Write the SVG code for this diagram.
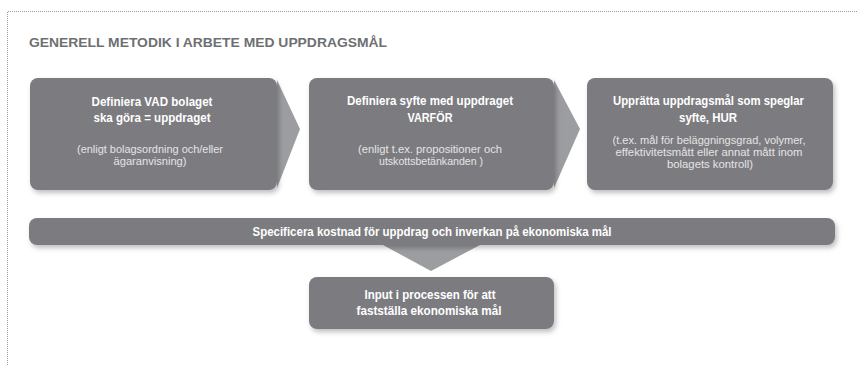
<svg xmlns="http://www.w3.org/2000/svg" width="858" height="365" viewBox="0 0 858 365">
<defs>
<filter id="sh" x="-10%" y="-20%" width="125%" height="150%">
<feDropShadow dx="2" dy="3" stdDeviation="2.5" flood-color="#000" flood-opacity="0.25"/>
</filter>
<style>
.box{fill:#7b7c80;filter:url(#sh)}
.chev{fill:#9c9da0}
.t{font-family:"Liberation Sans",Arial,sans-serif;font-weight:bold;fill:#fff;font-size:12.5px;text-anchor:middle}
.s{font-family:"Liberation Sans",Arial,sans-serif;fill:#e4e4e6;font-size:10.5px;text-anchor:middle}
.h{font-family:"Liberation Sans",Arial,sans-serif;font-weight:bold;fill:#6e6f72;font-size:12.5px}
</style>
</defs>
<rect width="858" height="365" fill="#fff"/>
<path d="M7.5 365 V11.5 H858" fill="none" stroke="#9a9a9a" stroke-width="1" stroke-dasharray="1 1"/>
<text class="h" x="29" y="47" textLength="358" lengthAdjust="spacingAndGlyphs">GENERELL METODIK I ARBETE MED UPPDRAGSMÅL</text>
<g id="connectors">
<path class="chev" d="M277 80 L300 129 L277 188 Z"/>
<path class="chev" d="M554 80 L580 129 L554 188 Z"/>
<path class="chev" d="M383 245 L480 245 L431 271 Z"/>
</g>
<g id="n1">
<rect class="box" x="30" y="78" width="247" height="112" rx="8"/>
<text class="t" x="152" y="106" textLength="121" lengthAdjust="spacingAndGlyphs">Definiera VAD bolaget</text>
<text class="t" x="152" y="122" textLength="117" lengthAdjust="spacingAndGlyphs">ska göra = uppdraget</text>
<text class="s" x="150" y="153" textLength="146" lengthAdjust="spacingAndGlyphs">(enligt bolagsordning och/eller</text>
<text class="s" x="150" y="165" textLength="73" lengthAdjust="spacingAndGlyphs">ägaranvisning)</text>
</g>
<g id="n2">
<rect class="box" x="309" y="78" width="245" height="112" rx="8"/>
<text class="t" x="430" y="105" textLength="166" lengthAdjust="spacingAndGlyphs">Definiera syfte med uppdraget</text>
<text class="t" x="430" y="122" textLength="45" lengthAdjust="spacingAndGlyphs">VARFÖR</text>
<text class="s" x="430" y="153" textLength="144" lengthAdjust="spacingAndGlyphs">(enligt t.ex. propositioner och</text>
<text class="s" x="431" y="165" textLength="104" lengthAdjust="spacingAndGlyphs">utskottsbetänkanden )</text>
</g>
<g id="n3">
<rect class="box" x="587" y="78" width="246" height="112" rx="8"/>
<text class="t" x="708.5" y="105" textLength="191" lengthAdjust="spacingAndGlyphs">Upprätta uppdragsmål som speglar</text>
<text class="t" x="708" y="122" textLength="58" lengthAdjust="spacingAndGlyphs">syfte, HUR</text>
<text class="s" x="709" y="144" textLength="193" lengthAdjust="spacingAndGlyphs">(t.ex. mål för beläggningsgrad, volymer,</text>
<text class="s" x="709" y="156" textLength="187" lengthAdjust="spacingAndGlyphs">effektivitetsmått eller annat mått inom</text>
<text class="s" x="710" y="168" textLength="86" lengthAdjust="spacingAndGlyphs">bolagets kontroll)</text>
</g>
<g id="n4">
<rect class="box" x="29" y="218" width="806" height="27" rx="8"/>
<text class="t" x="432" y="236" textLength="359" lengthAdjust="spacingAndGlyphs" style="font-size:13px">Specificera kostnad för uppdrag och inverkan på ekonomiska mål</text>
</g>
<g id="n5">
<rect class="box" x="309" y="277" width="245" height="52" rx="8"/>
<text class="t" x="430" y="299" textLength="131" lengthAdjust="spacingAndGlyphs">Input i processen för att</text>
<text class="t" x="429" y="315" textLength="145" lengthAdjust="spacingAndGlyphs">fastställa ekonomiska mål</text>
</g>
</svg>
